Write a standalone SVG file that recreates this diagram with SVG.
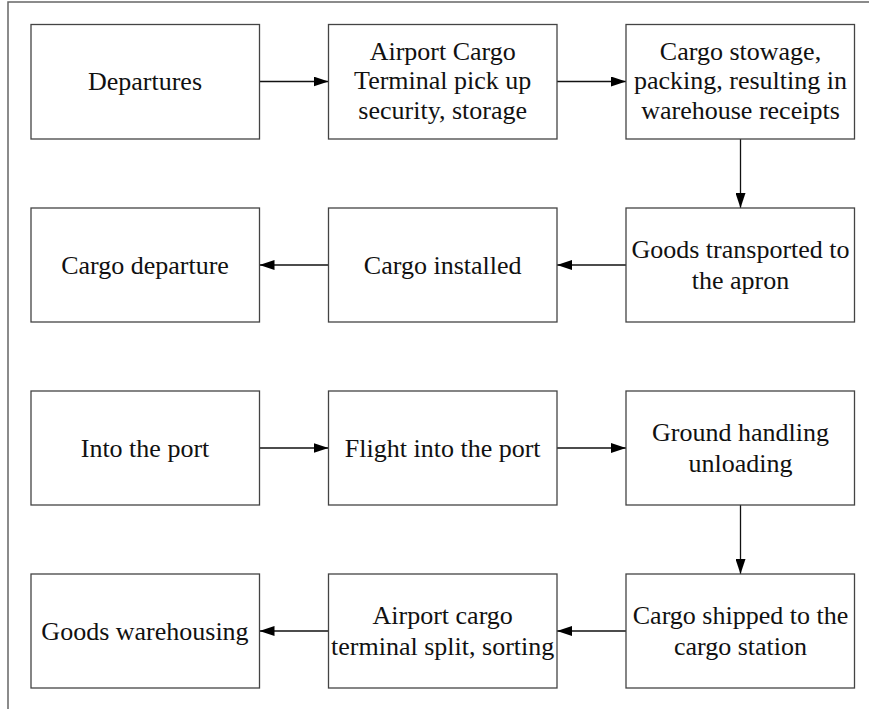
<svg xmlns="http://www.w3.org/2000/svg" width="869" height="709" viewBox="0 0 869 709">
<style>
.box{fill:#fff;stroke:#444;stroke-width:1.3}
.t{font-family:'Times New Roman',Times,'Liberation Serif',Tinos,'Noto Serif','DejaVu Serif',FreeSerif,serif;font-size:26px;fill:#111;text-anchor:middle}
.c{stroke:#111;stroke-width:1.3;fill:none;marker-end:url(#ah)}
.frame{stroke:#666;stroke-width:1.5;fill:none}
</style>
<defs>
<marker id="ah" markerWidth="16" markerHeight="10" refX="15" refY="5" orient="auto" markerUnits="userSpaceOnUse">
<path d="M0,0 L15,5 L0,10 Z" fill="#000"/>
</marker>
</defs>
<rect width="869" height="709" fill="#fff"/>
<path class="frame" d="M869,2 H8 V709"/>
<g id="connectors">
<line class="c" x1="259.5" y1="81.5" x2="328.5" y2="81.5"/>
<line class="c" x1="557" y1="81.5" x2="626" y2="81.5"/>
<line class="c" x1="740.5" y1="139" x2="740.5" y2="208"/>
<line class="c" x1="626" y1="265" x2="557" y2="265"/>
<line class="c" x1="328.5" y1="265" x2="259.5" y2="265"/>
<line class="c" x1="259.5" y1="448" x2="328.5" y2="448"/>
<line class="c" x1="557" y1="448" x2="626" y2="448"/>
<line class="c" x1="740.5" y1="505" x2="740.5" y2="574"/>
<line class="c" x1="626" y1="631" x2="557" y2="631"/>
<line class="c" x1="328.5" y1="631" x2="259.5" y2="631"/>
</g>
<g id="n1"><rect class="box" x="31" y="24.5" width="228.5" height="114.5"/><text class="t" x="145" y="90">Departures</text></g>
<g id="n2"><rect class="box" x="328.5" y="24.5" width="228.5" height="114.5"/><text class="t" x="442.7" y="59.5">Airport Cargo</text><text class="t" x="442.7" y="89">Terminal pick up</text><text class="t" x="442.7" y="118.5">security, storage</text></g>
<g id="n3"><rect class="box" x="626" y="24.5" width="228.5" height="114.5"/><text class="t" x="740.5" y="59.5">Cargo stowage,</text><text class="t" x="740.5" y="89">packing, resulting in</text><text class="t" x="740.5" y="118.5">warehouse receipts</text></g>
<g id="n4"><rect class="box" x="626" y="208" width="228.5" height="114"/><text class="t" x="740.5" y="258">Goods transported to</text><text class="t" x="740.5" y="288.5">the apron</text></g>
<g id="n5"><rect class="box" x="328.5" y="208" width="228.5" height="114"/><text class="t" x="442.7" y="274">Cargo installed</text></g>
<g id="n6"><rect class="box" x="31" y="208" width="228.5" height="114"/><text class="t" x="145" y="274">Cargo departure</text></g>
<g id="n7"><rect class="box" x="31" y="391" width="228.5" height="114"/><text class="t" x="145" y="457">Into the port</text></g>
<g id="n8"><rect class="box" x="328.5" y="391" width="228.5" height="114"/><text class="t" x="442.7" y="457">Flight into the port</text></g>
<g id="n9"><rect class="box" x="626" y="391" width="228.5" height="114"/><text class="t" x="740.5" y="441">Ground handling</text><text class="t" x="740.5" y="471.5">unloading</text></g>
<g id="n10"><rect class="box" x="626" y="574" width="228.5" height="114"/><text class="t" x="740.5" y="624">Cargo shipped to the</text><text class="t" x="740.5" y="654.5">cargo station</text></g>
<g id="n11"><rect class="box" x="328.5" y="574" width="228.5" height="114"/><text class="t" x="442.7" y="624">Airport cargo</text><text class="t" x="442.7" y="654.5">terminal split, sorting</text></g>
<g id="n12"><rect class="box" x="31" y="574" width="228.5" height="114"/><text class="t" x="145" y="640">Goods warehousing</text></g>
</svg>
